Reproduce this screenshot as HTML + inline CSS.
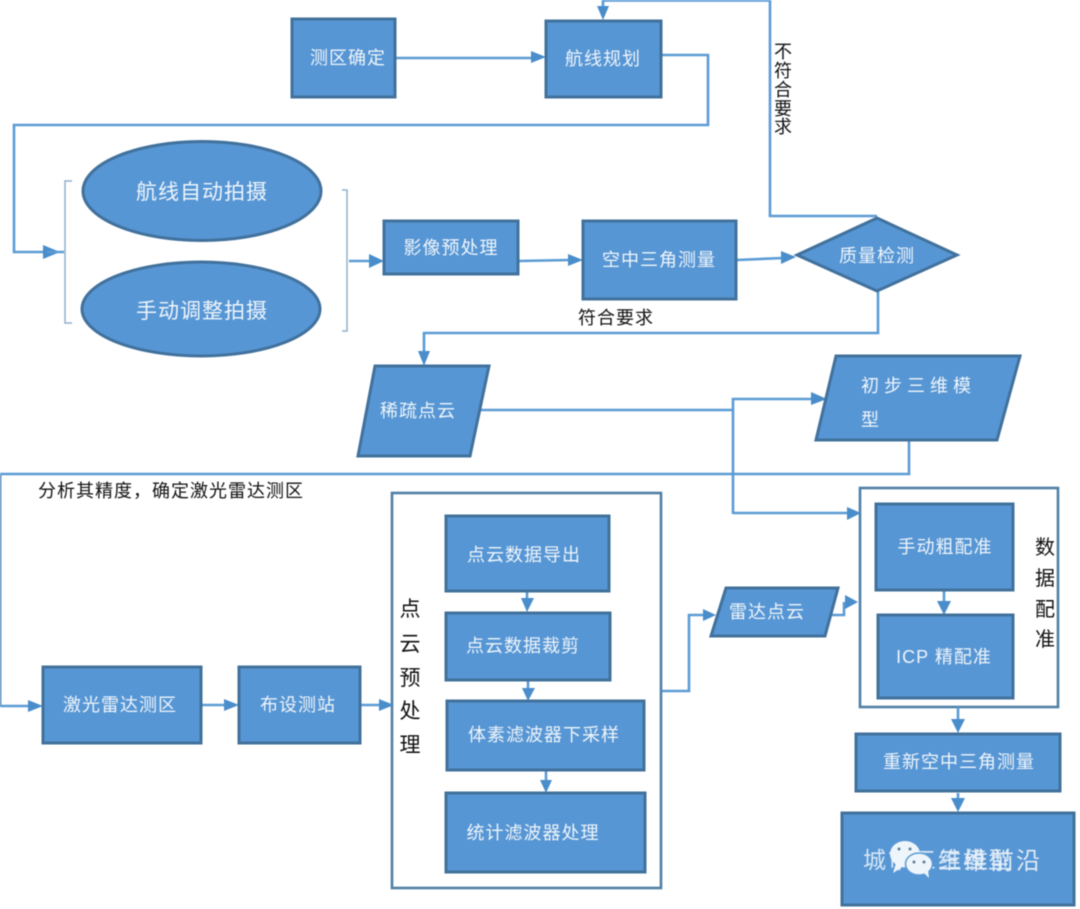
<!DOCTYPE html>
<html><head><meta charset="utf-8">
<style>
html,body{margin:0;padding:0;background:#fff;width:1080px;height:909px;overflow:hidden}
svg{display:block;filter:blur(.45px)}
text{font-family:"Liberation Sans","Noto Sans CJK SC",sans-serif;}
.n{fill:#5796d4;stroke:#41719c;stroke-width:3}
.t{fill:#eef5fb;font-size:18px;text-anchor:middle;letter-spacing:1px}
.k{fill:#111;font-size:18px;letter-spacing:1px}
.c{fill:none;stroke:#5b9bd5;stroke-width:2.6}
.a{fill:#4a8dcb}
.b{fill:none;stroke:#8fb0cc;stroke-width:1.5}
.f{fill:#fff;stroke:#4f7fa6;stroke-width:2.6}
</style></head><body>
<svg width="1080" height="909" viewBox="0 0 1080 909" xmlns="http://www.w3.org/2000/svg">
<!-- containers -->
<rect class="f" x="392" y="493" width="269" height="395"/>
<rect class="f" x="860" y="488" width="198" height="219"/>
<!-- connectors -->
<path class="c" d="M395 58H532"/><polygon class="a" points="546,57 531,51 531,63"/>
<path class="c" d="M660 55H708V125H14V252H44"/><polygon class="a" points="60,252 43,245 43,259"/>
<path class="c" d="M47 252H64"/>
<path class="c" d="M603 0V8"/><polygon class="a" points="603,20 597,6 609,6"/>
<path class="c" d="M603 0.500H770V216H877"/>
<path class="c" d="M349 261H370"/><polygon class="a" points="384,261 369,254 369,268"/>
<path class="c" d="M519 261L570 260"/><polygon class="a" points="583,260 568,254 568,266"/>
<path class="c" d="M737 260L783 258"/><polygon class="a" points="796,257 781,251 781,264"/>
<path class="c" d="M878 292V333H424V353"/><polygon class="a" points="424,366 418,351 430,351"/>
<path class="c" d="M468 410H733"/>
<path class="c" d="M733 514V399H812"/><polygon class="a" points="827,399 811,392 811,405"/>
<path class="c" d="M733 513H848"/><polygon class="a" points="861,513 847,507 847,520"/>
<path class="c" d="M909 441V474H0"/>
<path class="c" d="M0 474V706H30"/><polygon class="a" points="43,706 28,700 28,712"/>
<path class="c" d="M0 475V706" style="stroke:#4f86b8"/>
<path class="c" d="M202 705H226"/><polygon class="a" points="239,705 224,699 224,711"/>
<path class="c" d="M361 705H380"/><polygon class="a" points="394,705 379,699 379,711"/>
<path class="c" d="M527 592V600"/><polygon class="a" points="527,612 521,598 534,598"/>
<path class="c" d="M528 681V690"/><polygon class="a" points="528,701 522,688 535,688"/>
<path class="c" d="M546 771V782"/><polygon class="a" points="546,793 540,780 552,780"/>
<path class="c" d="M662 691H689V615H706"/><polygon class="a" points="716,615 703,609 703,621"/>
<path class="c" d="M832 615H844V602"/><polygon class="a" points="858,602 845,595 845,609"/>
<path class="c" d="M944 590V604"/><polygon class="a" points="944,615 937,601 951,601"/>
<path class="c" d="M958 707V722"/><polygon class="a" points="958,733 951,719 965,719"/>
<path class="c" d="M958 793V802"/><polygon class="a" points="958,812 951,798 965,798"/>
<!-- brackets -->
<path class="b" d="M72 181H65V323H72"/>
<path class="b" d="M342 190H347V331H342"/>
<!-- nodes -->
<rect class="n" x="292" y="19" width="103" height="78"/>
<rect class="n" x="546" y="21" width="115" height="76"/>
<ellipse class="n" cx="202" cy="191" rx="119" ry="49.500"/>
<ellipse class="n" cx="201" cy="309" rx="119" ry="47"/>
<rect class="n" x="384" y="221" width="134" height="53"/>
<rect class="n" x="583" y="221" width="153" height="78"/>
<polygon class="n" points="797,255 877,218 957,255 877,291"/>
<polygon class="n" points="375,366 489,366 470,456 358,456"/>
<polygon class="n" points="836,356 1020,356 997,440 816,440"/>
<rect class="n" x="446" y="516" width="163" height="75"/>
<rect class="n" x="446" y="613" width="164" height="67"/>
<rect class="n" x="447" y="701" width="197" height="69"/>
<rect class="n" x="446" y="793" width="199" height="79"/>
<rect class="n" x="43" y="667" width="158" height="76"/>
<rect class="n" x="239" y="667" width="121" height="76"/>
<polygon class="n" points="726,588 838,588 825,636 711,636"/>
<rect class="n" x="876" y="504" width="137" height="86"/>
<rect class="n" x="878" y="615" width="135" height="83"/>
<rect class="n" x="856" y="734" width="204" height="57"/>
<rect class="n" x="842" y="813" width="232" height="92"/>
<!-- labels -->
<text class="t" x="348" y="64">测区确定</text>
<text class="t" x="603" y="65">航线规划</text>
<text class="t" x="202" y="199" style="font-size:21px;letter-spacing:1px">航线自动拍摄</text>
<text class="t" x="202" y="318" style="font-size:21px;letter-spacing:1px">手动调整拍摄</text>
<text class="t" x="451" y="254">影像预处理</text>
<text class="t" x="659" y="266">空中三角测量</text>
<text class="t" x="877" y="262">质量检测</text>
<text class="t" x="418" y="417">稀疏点云</text>
<text class="t" x="861" y="392" style="text-anchor:start;letter-spacing:5px">初步三维模</text>
<text class="t" x="861" y="426" style="text-anchor:start">型</text>
<text class="t" x="524" y="561">点云数据导出</text>
<text class="t" x="523" y="652">点云数据裁剪</text>
<text class="t" x="544" y="741">体素滤波器下采样</text>
<text class="t" x="533" y="839">统计滤波器处理</text>
<text class="t" x="120" y="711">激光雷达测区</text>
<text class="t" x="298" y="711">布设测站</text>
<text class="t" x="767" y="618">雷达点云</text>
<text class="t" x="945" y="553">手动粗配准</text>
<text class="t" x="944" y="663">ICP 精配准</text>
<text class="t" x="959" y="768">重新空中三角测量</text>
<text class="t" x="863" y="868" style="font-size:23px;text-anchor:start;opacity:.85;letter-spacing:2px">城市三维模型</text>
<text class="t" x="938" y="869" style="font-size:24px;text-anchor:start;opacity:.9;letter-spacing:2px">三维前沿</text>
<!-- wechat icon -->
<ellipse cx="905" cy="854" rx="15" ry="13" fill="#eef5fb"/>
<polygon points="896,863 893,873 904,866" fill="#eef5fb"/>
<ellipse cx="919" cy="864" rx="13.500" ry="11" fill="#eef5fb" stroke="#5b9bd5" stroke-width="1.500"/>
<polygon points="924,873 929,878 928,870" fill="#eef5fb"/>
<circle cx="899" cy="849" r="1.500" fill="#5f7f99"/><circle cx="910" cy="849" r="1.500" fill="#5f7f99"/>
<circle cx="914" cy="862" r="1.500" fill="#5f7f99"/><circle cx="924" cy="862" r="1.500" fill="#5f7f99"/>
<!-- black labels -->
<text class="k" x="578" y="324">符合要求</text>
<text class="k" x="38" y="497">分析其精度，确定激光雷达测区</text>
<text class="k" x="774" y="58">不</text>
<text class="k" x="774" y="77">符</text>
<text class="k" x="774" y="96">合</text>
<text class="k" x="774" y="115">要</text>
<text class="k" x="774" y="133">求</text>
<g style="font-size:21px;fill:#111;text-anchor:middle">
<text x="410" y="616">点</text><text x="410" y="651">云</text><text x="410" y="685">预</text><text x="410" y="718">处</text><text x="410" y="752">理</text>
</g>
<g style="font-size:20px;fill:#111;text-anchor:middle">
<text x="1045" y="554">数</text><text x="1045" y="585">据</text><text x="1045" y="616">配</text><text x="1045" y="646">准</text>
</g>
</svg>
</body></html>
